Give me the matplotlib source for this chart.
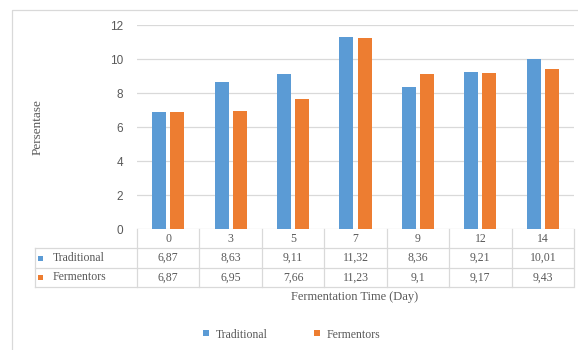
import matplotlib
matplotlib.use('Agg')
import matplotlib.pyplot as plt
from matplotlib.patches import Rectangle
from matplotlib.transforms import blended_transform_factory

# ─── Data ─────────────────────────────────────────────────────────────────────
days = ['0', '3', '5', '7', '9', '12', '14']
traditional = [6.87, 8.63, 9.11, 11.32, 8.36, 9.21, 10.01]
fermentors = [6.87, 6.95, 7.66, 11.23, 9.10, 9.17, 9.43]
series_names = ['Traditional', 'Fermentors']

C_BLUE = '#5B9BD5'
C_ORANGE = '#ED7D31'
C_GRID = '#D9D9D9'
C_TEXT = '#595959'
SERIF = ['Liberation Serif', 'DejaVu Serif']
SANS = ['Liberation Sans', 'DejaVu Sans']

W, H = 578, 350
fig = plt.figure(figsize=(W / 100, H / 100), dpi=100)
fig.patch.set_facecolor('white')

# overlay in pixel coordinates (y down) for frame, table and legend
ov = fig.add_axes([0, 0, 1, 1], zorder=0)
ov.set_xlim(0, W)
ov.set_ylim(H, 0)
ov.axis('off')

# plot area: value 12 at y=25 px, value 0 at y=229 px, x from 137 to 574 px
L, R, T, B = 137, 574, 25, 229
ax = fig.add_axes([L / W, (H - B) / H, (R - L) / W, (B - T) / H], zorder=1)
ax.patch.set_alpha(0)

# chart frame
ov.add_patch(Rectangle((12, 10), 700, 400, fill=False, edgecolor=C_GRID, lw=0.9))

# ─── Bars ─────────────────────────────────────────────────────────────────────
x = list(range(len(days)))
bw, off = 0.225, 0.145
ax.bar([i - off for i in x], traditional, bw, color=C_BLUE, zorder=3)
ax.bar([i + off for i in x], fermentors, bw, color=C_ORANGE, zorder=3)

ax.set_xlim(-0.5, len(days) - 0.5)
ax.set_ylim(0, 12)
ax.set_yticks(range(0, 13, 2))
ax.set_xticks([])
ax.yaxis.grid(True, color=C_GRID, lw=0.9, zorder=0)
ax.set_axisbelow(True)
for s in ax.spines.values():
    s.set_visible(False)
ax.tick_params(axis='y', length=0, pad=10, labelcolor=C_TEXT, labelsize=8.5)
for lab in ax.get_yticklabels():
    lab.set_family(SANS)

ov.text(38, 127, 'Persentase', rotation=90, ha='center', va='center',
        fontsize=9.5, color=C_TEXT, family=SERIF)

# ─── Data table under the axis ────────────────────────────────────────────────
tr = blended_transform_factory(ax.transData, ov.transData)
row_y = [229, 248, 268, 287]
lw_t = 0.9

for yy in row_y[1:]:
    ov.plot([35, R - 1], [yy, yy], color=C_GRID, lw=lw_t)
ov.plot([35, 35], [row_y[1], row_y[3]], color=C_GRID, lw=lw_t)
for k in range(len(days) + 1):
    ov.plot([k - 0.5, k - 0.5], [row_y[0], row_y[3]], color=C_GRID, lw=lw_t,
            transform=tr)

def fmt(v):
    return f'{v:g}'.replace('.', ',')

for i, d in enumerate(days):
    ov.text(i, 238.5, d, transform=tr, ha='center', va='center',
            fontsize=8.5, color=C_TEXT, family=SERIF)
    ov.text(i, 258, fmt(traditional[i]), transform=tr, ha='center', va='center',
            fontsize=8.5, color=C_TEXT, family=SERIF)
    ov.text(i, 277.5, fmt(fermentors[i]), transform=tr, ha='center', va='center',
            fontsize=8.5, color=C_TEXT, family=SERIF)

for yy, name, col in [(258, series_names[0], C_BLUE), (277.5, series_names[1], C_ORANGE)]:
    ov.add_patch(Rectangle((38, yy - 2.5), 5, 5, color=col, lw=0))
    ov.text(53, yy, name, ha='left', va='center', fontsize=8.5,
            color=C_TEXT, family=SERIF)

ov.text(355, 297, 'Fermentation Time (Day)', ha='center', va='center',
        fontsize=9, color=C_TEXT, family=SERIF)

# ─── Legend ───────────────────────────────────────────────────────────────────
for lx, name, col in [(203, series_names[0], C_BLUE), (314, series_names[1], C_ORANGE)]:
    ov.add_patch(Rectangle((lx, 330), 6, 6, color=col, lw=0))
    ov.text(lx + 13, 335, name, ha='left', va='center', fontsize=8.5,
            color=C_TEXT, family=SERIF)

fig.savefig('out.png', dpi=100, facecolor='white')
